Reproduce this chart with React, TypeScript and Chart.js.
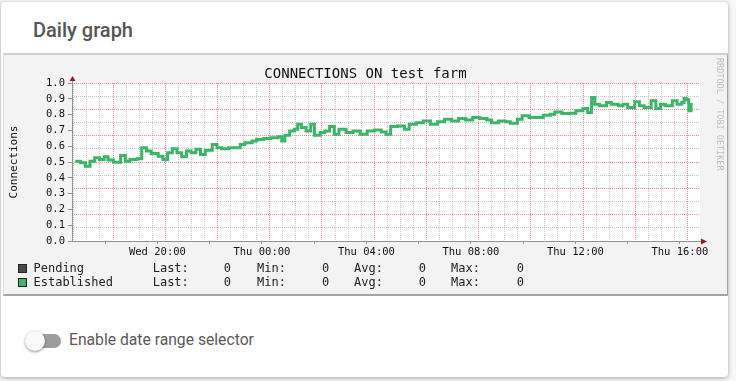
import React, { useEffect, useRef } from "react";
import { Chart, registerables } from "chart.js";

Chart.register(...registerables);

// ---- data (hours since Wed 00:00) ----
const CHART_TITLE = "CONNECTIONS ON test farm";
const Y_TITLE = "Connections";
const X_MIN = 16.73;
const X_MAX = 40.77;
const X_TICK_HOURS = [18, 20, 22, 24, 26, 28, 30, 32, 34, 36, 38, 40];
const LABEL_HOURS = [20, 24, 28, 32, 36, 40];
const LABEL_TEXT = ["Wed 20:00", "Thu 00:00", "Thu 04:00", "Thu 08:00", "Thu 12:00", "Thu 16:00"];

const HOURS = [
  16.85, 17.06, 17.24, 17.42, 17.6, 17.78, 17.96, 18.11, 18.32, 18.59, 18.77, 18.95, 19.22, 19.4, 19.58,
  19.76, 20.03, 20.21, 20.39, 20.57, 20.75, 20.93, 21.11, 21.29, 21.47, 21.65, 21.83, 22.1, 22.28, 22.46,
  22.73, 22.99, 23.17, 23.35, 23.62, 23.8, 24.07, 24.34, 24.61, 24.76, 24.88, 25.06, 25.24, 25.37, 25.51,
  25.69, 25.87, 26.01, 26.23, 26.41, 26.59, 26.77, 26.95, 27.22, 27.49, 27.76, 28.03, 28.3, 28.57, 28.75,
  28.93, 29.19, 29.46, 29.64, 29.91, 30.18, 30.45, 30.72, 30.99, 31.26, 31.53, 31.8, 32.07, 32.34, 32.61,
  32.79, 33.06, 33.33, 33.51, 33.78, 33.96, 34.23, 34.5, 34.77, 35.04, 35.21, 35.48, 35.75, 36.02, 36.29,
  36.47, 36.62, 36.74, 36.92, 37.19, 37.37, 37.64, 37.82, 38.0, 38.27, 38.45, 38.63, 38.9, 39.08, 39.26,
  39.44, 39.71, 39.89, 40.07, 40.16, 40.25, 40.34, 40.43,
];
const ESTABLISHED = [
  0.505, 0.495, 0.473, 0.505, 0.527, 0.516, 0.533, 0.512, 0.499, 0.541, 0.505, 0.516, 0.52, 0.59, 0.569,
  0.554, 0.537, 0.516, 0.558, 0.584, 0.558, 0.533, 0.569, 0.558, 0.58, 0.548, 0.575, 0.611, 0.59, 0.584,
  0.59, 0.59, 0.611, 0.622, 0.633, 0.643, 0.648, 0.654, 0.66, 0.633, 0.669, 0.696, 0.707, 0.739, 0.718,
  0.696, 0.739, 0.669, 0.686, 0.696, 0.724, 0.675, 0.707, 0.686, 0.696, 0.675, 0.696, 0.703, 0.69, 0.675,
  0.724, 0.728, 0.707, 0.739, 0.749, 0.76, 0.739, 0.754, 0.771, 0.76, 0.775, 0.766, 0.781, 0.775, 0.766,
  0.749, 0.76, 0.754, 0.745, 0.771, 0.792, 0.781, 0.781, 0.796, 0.803, 0.817, 0.807, 0.809, 0.824, 0.839,
  0.813, 0.909, 0.866, 0.856, 0.877, 0.866, 0.856, 0.866, 0.845, 0.881, 0.856, 0.845, 0.887, 0.839, 0.866,
  0.856, 0.887, 0.866, 0.877, 0.902, 0.894, 0.824, 0.873,
];

const LEGEND_NAMES = ["Pending", "Established"];
const LEGEND_COLORS = ["#4a4a4a", "#3fb36b"];
const STAT_LAST = [0, 0];
const STAT_MIN = [0, 0];
const STAT_AVG = [0, 0];
const STAT_MAX = [0, 0];

const MONO = "'DejaVu Sans Mono', monospace";
const MAJOR_GRID = "rgba(240,120,120,0.85)";
const MINOR_GRID = "rgba(175,175,175,0.7)";

const decorPlugin = {
  id: "rrdDecor",
  beforeDraw(chart: any) {
    const { ctx, chartArea: a } = chart;
    ctx.save();
    ctx.fillStyle = "#ffffff";
    ctx.fillRect(a.left, a.top, a.right - a.left, a.bottom - a.top);
    ctx.restore();
  },
  afterDraw(chart: any) {
    const { ctx, chartArea: a } = chart;
    ctx.save();
    ctx.strokeStyle = "#8e978e";
    ctx.lineWidth = 1;
    ctx.beginPath();
    ctx.moveTo(a.left + 0.5, a.top + 1);
    ctx.lineTo(a.left + 0.5, a.top - 3);
    ctx.stroke();
    ctx.beginPath();
    ctx.moveTo(a.right - 1, a.bottom + 0.5);
    ctx.lineTo(a.right + 2, a.bottom + 0.5);
    ctx.stroke();
    ctx.fillStyle = "#9b1c1c";
    ctx.beginPath();
    ctx.moveTo(a.left + 0.5, a.top - 7);
    ctx.lineTo(a.left - 2.5, a.top - 2);
    ctx.lineTo(a.left + 3.5, a.top - 2);
    ctx.closePath();
    ctx.fill();
    ctx.beginPath();
    ctx.moveTo(a.right + 7, a.bottom + 0.5);
    ctx.lineTo(a.right + 1, a.bottom - 2.5);
    ctx.lineTo(a.right + 1, a.bottom + 3.5);
    ctx.closePath();
    ctx.fill();
    ctx.restore();
  },
};

function GraphCanvas() {
  const ref = useRef<HTMLCanvasElement | null>(null);
  useEffect(() => {
    if (!ref.current) return;
    const points = HOURS.map((h, i) => ({ x: h, y: ESTABLISHED[i] }));
    const chart = new Chart(ref.current, {
      type: "line",
      data: {
        datasets: [
          {
            label: "Established",
            data: points,
            borderColor: "#3cb46a",
            backgroundColor: "#3cb46a",
            borderWidth: 3,
            stepped: true,
            pointRadius: 0,
            fill: false,
          },
        ],
      },
      plugins: [decorPlugin],
      options: {
        animation: false,
        responsive: false,
        maintainAspectRatio: false,
        layout: { padding: { left: 0, right: 0, top: 0, bottom: 35 } },
        plugins: {
          legend: { display: false },
          tooltip: { enabled: false },
          title: {
            display: true,
            text: CHART_TITLE,
            color: "#111",
            font: { family: MONO, size: 14, weight: "normal", lineHeight: 1.2 },
            padding: { top: 10.6, bottom: 0.6 },
          },
        },
        scales: {
          x: {
            type: "linear",
            position: "bottom",
            min: X_MIN,
            max: X_MAX,
            afterBuildTicks: (s: any) => {
              s.ticks = X_TICK_HOURS.map((v) => ({ value: v }));
            },
            afterFit: (s: any) => {
              s.height = 18;
            },
            ticks: {
              autoSkip: false,
              maxRotation: 0,
              padding: 2,
              color: "#111",
              font: { family: MONO, size: 10.5 },
              callback: (v: any) => {
                const i = LABEL_HOURS.indexOf(Number(v));
                return i >= 0 ? LABEL_TEXT[i] : "";
              },
            },
            grid: { drawOnChartArea: false, tickLength: 3, color: "#e07a7a" },
            border: { display: true, color: "#8e978e", width: 1 },
          },
          xg: {
            type: "linear",
            position: "top",
            min: X_MIN,
            max: X_MAX,
            afterBuildTicks: (s: any) => {
              const t: any[] = [];
              for (let v = 16.8; v <= X_MAX; v += 0.5) t.push({ value: v });
              s.ticks = t;
            },
            afterFit: (s: any) => {
              s.height = 0;
            },
            ticks: { display: false },
            grid: {
              drawTicks: false,
              lineWidth: 1,
              color: (c: any) => {
                const v = c.tick ? c.tick.value : 0;
                const m = Math.round((v - 0.3) * 2) % 4;
                return m === 0 ? MAJOR_GRID : MINOR_GRID;
              },
            },
            border: { display: false, dash: [1, 1] },
          },
          y: {
            type: "linear",
            position: "left",
            min: 0,
            max: 1,
            afterFit: (s: any) => {
              s.width = 68;
            },
            ticks: {
              stepSize: 0.1,
              padding: 3,
              color: "#111",
              font: { family: MONO, size: 10.5 },
              callback: (v: any) => Number(v).toFixed(1),
            },
            grid: { drawOnChartArea: false, tickLength: 4, color: "#8e978e" },
            border: { display: true, color: "#8e978e", width: 1 },
            title: {
              display: true,
              text: Y_TITLE,
              color: "#111",
              font: { family: MONO, size: 11, lineHeight: 1.2 },
              padding: { top: 3.4, bottom: 0 },
            },
          },
          yg: {
            type: "linear",
            position: "right",
            min: 0,
            max: 1,
            afterBuildTicks: (s: any) => {
              const t: any[] = [];
              for (let k = 1; k <= 12; k++) t.push({ value: k / 12 });
              s.ticks = t;
            },
            afterFit: (s: any) => {
              s.width = 27;
            },
            ticks: { display: false },
            grid: {
              drawTicks: false,
              lineWidth: 1,
              color: (c: any) => {
                const v = c.tick ? c.tick.value : 0;
                return Math.round(v * 12) % 2 === 0 ? MAJOR_GRID : MINOR_GRID;
              },
            },
            border: { display: false, dash: [1, 1] },
          },
        },
      } as any,
    });
    return () => chart.destroy();
  }, []);
  return <canvas ref={ref} width={723} height={239} style={{ position: "absolute", left: 0, top: 0 }} />;
}

const legendText: React.CSSProperties = {
  position: "absolute",
  fontFamily: MONO,
  fontSize: 12,
  lineHeight: "14px",
  color: "#222",
  whiteSpace: "pre",
};

function LegendRows() {
  const rows: React.ReactNode[] = [];
  LEGEND_NAMES.forEach((name, i) => {
    const top = 206 + i * 14;
    const stat = (label: string, lx: number, val: number, rx: number) => (
      <React.Fragment key={label + i}>
        <div style={{ ...legendText, left: lx, top }}>{label}</div>
        <div style={{ ...legendText, left: rx - 40, width: 40, textAlign: "right", top }}>{String(val)}</div>
      </React.Fragment>
    );
    rows.push(
      <React.Fragment key={name}>
        <div
          style={{
            position: "absolute",
            left: 14,
            top: top + 3,
            width: 7,
            height: 7,
            background: LEGEND_COLORS[i],
            border: "1px solid #222",
          }}
        />
        <div style={{ ...legendText, left: 29.5, top }}>{name}</div>
        {stat("Last:", 148.7, STAT_LAST[i], 227)}
        {stat("Min:", 253, STAT_MIN[i], 325.3)}
        {stat("Avg:", 350, STAT_AVG[i], 422)}
        {stat("Max:", 447, STAT_MAX[i], 520)}
      </React.Fragment>
    );
  });
  return <>{rows}</>;
}

export default function App() {
  return (
    <div
      style={{
        position: "absolute",
        left: 0,
        top: 0,
        width: 736,
        height: 381,
        background: "#f7f7f7",
        overflow: "hidden",
      }}
    >
      <div
        style={{
          position: "absolute",
          left: 1,
          top: 2,
          width: 727,
          height: 375,
          background: "#fff",
          borderRadius: 4,
          boxShadow: "0 1px 4px rgba(0,0,0,0.35)",
          overflow: "hidden",
        }}
      >
        <div
          style={{
            position: "absolute",
            left: 32,
            top: 16,
            height: 24,
            lineHeight: "24px",
            fontFamily: "Roboto, sans-serif",
            fontWeight: 500,
            fontSize: 20,
            color: "#555",
          }}
        >
          Daily graph
        </div>
        <div
          style={{
            position: "absolute",
            left: 2,
            top: 51,
            width: 723,
            height: 239,
            background: "#f3f3f3",
            borderTop: "2px solid #d0d0d0",
            borderRight: "2px solid #a3a3a3",
            borderBottom: "2px solid #a3a3a3",
            borderLeft: "1px solid #e2e2e2",
          }}
        >
          <div style={{ position: "relative", width: 723, height: 239 }}>
            <GraphCanvas />
            <LegendRows />
            <div
              style={{
                position: "absolute",
                left: 711,
                top: 3,
                writingMode: "vertical-rl",
                fontFamily: MONO,
                fontSize: 8.5,
                lineHeight: "10px",
                color: "#bdbdbd",
                whiteSpace: "pre",
              }}
            >
              RRDTOOL / TOBI OETIKER
            </div>
          </div>
        </div>
        <div
          style={{
            position: "absolute",
            left: 26,
            top: 332,
            width: 34,
            height: 14,
            borderRadius: 7,
            background: "#9e9e9e",
          }}
        />
        <div
          style={{
            position: "absolute",
            left: 24,
            top: 329,
            width: 20,
            height: 20,
            borderRadius: 10,
            background: "#fafafa",
            boxShadow: "0 1px 3px rgba(0,0,0,0.45)",
          }}
        />
        <div
          style={{
            position: "absolute",
            left: 68,
            top: 326,
            height: 24,
            lineHeight: "24px",
            fontFamily: "Roboto, sans-serif",
            fontSize: 15.7,
            color: "#5a5a5a",
          }}
        >
          Enable date range selector
        </div>
      </div>
    </div>
  );
}
